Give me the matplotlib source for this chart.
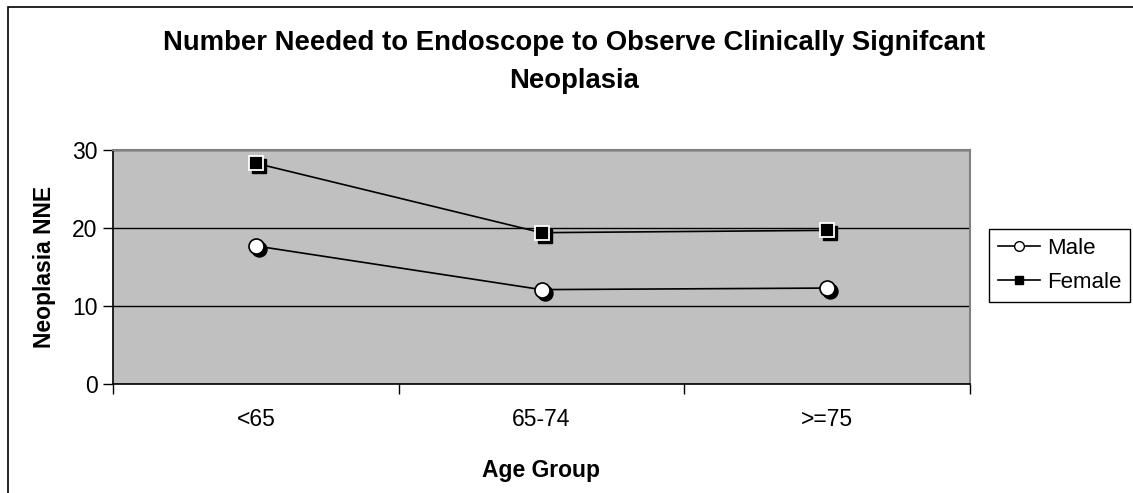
import matplotlib
matplotlib.use("Agg")
import matplotlib.pyplot as plt
from matplotlib.patches import Rectangle
from matplotlib.transforms import offset_copy

plt.rcParams["font.family"] = ["Liberation Sans", "DejaVu Sans"]

AGE_GROUPS = ["<65", "65-74", ">=75"]
MALE_NNE = [17.7, 12.1, 12.3]
FEMALE_NNE = [28.3, 19.4, 19.7]
Y_TICKS = [0, 10, 20, 30]

W, H = 1133, 493
fig = plt.figure(figsize=(W / 100, H / 100), dpi=100)
fig.patch.set_facecolor("white")

# chart-area border (runs off the right and bottom edges)
fig.patches.append(Rectangle((8 / W, -0.2), 2, 1 - 7 / H + 0.2, transform=fig.transFigure,
                             fill=False, edgecolor="black", linewidth=1.2))

ax = fig.add_axes([113 / W, (H - 384) / H, (970 - 113) / W, (384 - 150) / H])
ax.set_facecolor("#c0c0c0")

x = list(range(len(AGE_GROUPS)))
shadow = offset_copy(ax.transData, fig=fig, x=3, y=-3, units="dots")

ax.plot(x, MALE_NNE, color="black", linewidth=1.2, zorder=3)
ax.plot(x, FEMALE_NNE, color="black", linewidth=1.2, zorder=3)
ax.plot(x, MALE_NNE, linestyle="none", marker="o", markersize=10.8, color="black",
        transform=shadow, zorder=4)
ax.plot(x, FEMALE_NNE, linestyle="none", marker="s", markersize=10.3, color="black",
        transform=shadow, zorder=4)
ax.plot(x, MALE_NNE, linestyle="none", marker="o", markersize=10.8, markerfacecolor="white",
        markeredgecolor="black", markeredgewidth=1.2, zorder=5)
ax.plot(x, FEMALE_NNE, linestyle="none", marker="s", markersize=10.3, markerfacecolor="black",
        markeredgecolor="white", markeredgewidth=1.3, zorder=5)

# legend proxies
male_h, = ax.plot([], [], color="black", linewidth=1.2, marker="o", markersize=7,
                  markerfacecolor="white", markeredgecolor="black", label="Male")
female_h, = ax.plot([], [], color="black", linewidth=1.2, marker="s", markersize=6,
                    markerfacecolor="black", markeredgecolor="black", label="Female")
leg = fig.legend(handles=[male_h, female_h], loc="upper left",
                 bbox_to_anchor=(989 / W, 1 - 229 / H), fontsize=16, frameon=True,
                 fancybox=False, edgecolor="black", framealpha=1, handlelength=1.9,
                 handletextpad=0.3, borderpad=0.4, labelspacing=0.6, borderaxespad=0)
leg.get_frame().set_linewidth(1.0)

ax.set_xlim(-0.5, 2.5)
ax.set_ylim(0, 30)
ax.set_yticks(Y_TICKS)
ax.set_yticklabels([str(v) for v in Y_TICKS], fontsize=16.5)
ax.yaxis.grid(True, color="black", linewidth=1.0)
ax.set_axisbelow(True)

ax.set_xticks([-0.5, 0.5, 1.5, 2.5])
ax.set_xticklabels([])
ax.set_xticks(x, minor=True)
ax.set_xticklabels(AGE_GROUPS, minor=True, fontsize=16.5)
ax.tick_params(axis="x", which="minor", length=0, pad=17)
ax.tick_params(axis="both", which="major", direction="out", length=7, width=1.0, color="black")
ax.tick_params(axis="y", pad=4)

for side in ("top", "right"):
    ax.spines[side].set_color("#808080")
    ax.spines[side].set_linewidth(1.5)
for side in ("left", "bottom"):
    ax.spines[side].set_color("black")
    ax.spines[side].set_linewidth(1.2)

fig.text(45 / W, 1 - 267 / H, "Neoplasia NNE", rotation=90, ha="center", va="center",
         fontsize=16.5, fontweight="bold")
fig.text(541 / W, 1 - 470 / H, "Age Group", ha="center", va="center",
         fontsize=16.5, fontweight="bold")

fig.text(574 / W, 1 - 50 / H, "Number Needed to Endoscope to Observe Clinically Signifcant",
         ha="center", va="baseline", fontsize=19.8, fontweight="bold")
fig.text(574 / W, 1 - 88 / H, "Neoplasia", ha="center", va="baseline",
         fontsize=19.8, fontweight="bold")

fig.savefig("out.png", dpi=100)
